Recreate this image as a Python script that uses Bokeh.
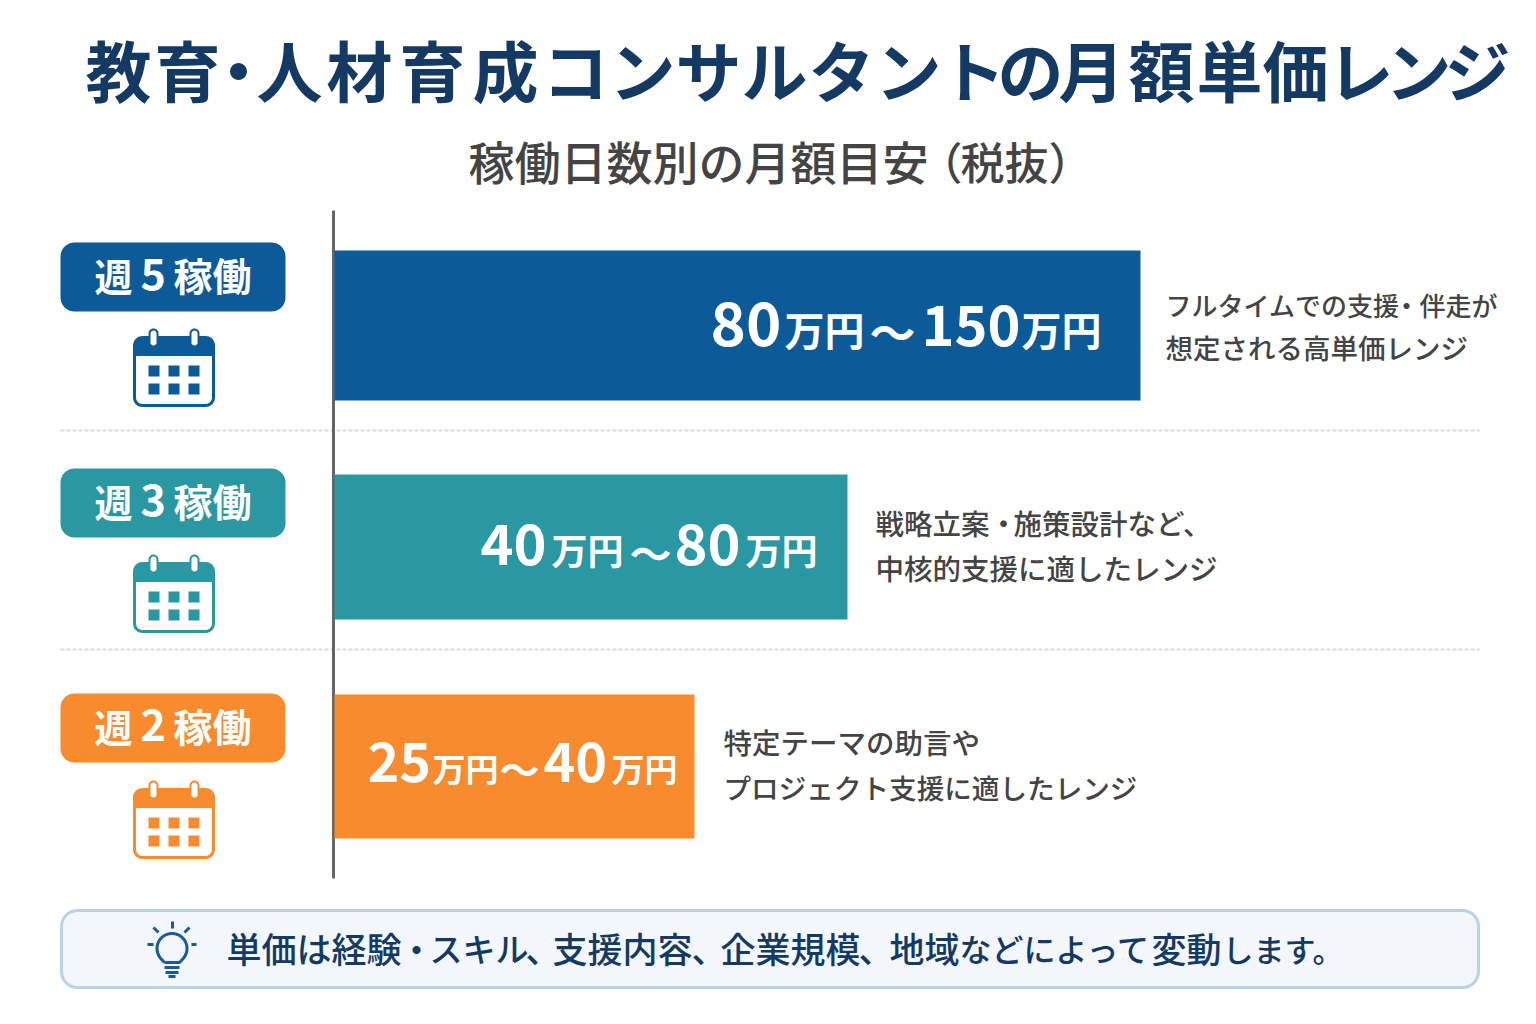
from bokeh.plotting import figure
from bokeh.models import ColumnDataSource, Range1d
from bokeh.core.properties import value
from bokeh.embed import file_html
from bokeh.resources import INLINE
import numpy as np

# Chart data
row_labels = ["5", "3", "2"]
low_values = ["80", "40", "25"]
high_values = ["150", "80", "40"]
bar_lengths = [806, 513, 360]  # drawn length (not proportional to the price)
bar_colors = ["#0d5a98", "#2a98a3", "#f78b2e"]
unit = "万円"
range_sep = "～"
title_text = "教育・人材育成コンサルタントの月額単価レンジ"
note_texts = [
    [("フルタイムでの支援", 1165, 315, 26), ("・", 1406, 315, 26), ("伴走が", 1419, 315, 26), ("想定される高単価レンジ", 1165, 359, 27.5)],
    [("戦略立案", 875, 535, 28.5), ("・", 1003, 535, 28.5), ("施策設計など、", 1013, 535, 28.5), ("中核的支援に適したレンジ", 875, 580, 28.5)],
    [("特定テーマの助言や", 723, 754, 28.5), ("プロジェクト支援に適したレンジ", 723, 799, 27.6)],
]

# Layout in picture pixels
title_centers = [118, 187, 238, 289, 359, 432, 505, 575, 642, 708, 774, 841, 908, 972,
                 1030, 1091, 1161, 1229, 1295, 1360, 1418, 1477]
bar_left = 334
bar_tops = [250, 474, 694]
bar_bottoms = [400, 619, 838]
badge_tops = [243, 469, 694]
calendar_tops = [337, 563, 789]
dividers = [430, 649]
value_x = [
    [710, 784, 869, 921, 1021],
    [480, 551, 629, 674, 745],
    [367, 432, 499, 543, 611],
]
value_baselines = [350, 569, 785]
unit_baselines = [346, 564, 782]
low_sizes = [60, 56, 54]
high_sizes = [56, 56, 54]
unit_sizes = [40, 36, 33]
sep_sizes = [46, 42, 40]

FONT = "Noto Sans CJK JP"
FONT_MED = "Noto Sans CJK JP Medium"
NAVY = "#143a63"
GREY = "#444444"

p = figure(width=1520, height=1008, x_range=Range1d(0, 1520), y_range=Range1d(1008, 0),
           output_backend="svg", toolbar_location=None,
           x_axis_location=None, y_axis_location=None, min_border=0)
p.xgrid.visible = False
p.ygrid.visible = False
p.outline_line_color = None


def add_text(x, y, text, size, color, font=FONT, style="normal", align="left"):
    # y is the baseline in the picture, drawn through the middle of the em box
    p.text(x=[x], y=[y - 0.44 * size], text=[text], text_font=value(font), text_font_style=style,
           text_font_size=f"{size}px", text_color=color, text_align=align,
           text_baseline="middle")


def rounded(x0, y0, x1, y1, r):
    # corners of a rounded box as a polygon
    t = np.linspace(0, np.pi / 2, 10)
    xs = np.concatenate([x1 - r + r * np.sin(t), x1 - r + r * np.cos(t),
                         x0 + r - r * np.sin(t), x0 + r - r * np.cos(t)])
    ys = np.concatenate([y0 + r - r * np.cos(t), y1 - r + r * np.sin(t),
                         y1 - r + r * np.cos(t), y0 + r - r * np.sin(t)])
    return xs.tolist(), ys.tolist()


def calendar(top, color):
    left = 134
    right = 213
    bottom = top + 68
    xs, ys = rounded(left, top, right, bottom, 8)
    p.patch(xs, ys, fill_color="white", line_color=color, line_width=3)
    # header band
    xs, ys = rounded(left, top, right, top + 14, 7)
    p.patch(xs, ys, fill_color=color, line_color=color, line_width=1)
    p.quad(left=[left], right=[right], top=[top + 8], bottom=[top + 18], fill_color=color, line_color=color)
    # rings
    for cx in [153, 194]:
        xs, ys = rounded(cx - 4, top - 8, cx + 4, top + 9, 4)
        p.patch(xs, ys, fill_color="white", line_color=color, line_width=2)
    # day squares
    cell_l = [148, 168, 188]
    cell_t = [top + 28, top + 46]
    for ct in cell_t:
        for cl in cell_l:
            p.quad(left=[cl], right=[cl + 11], top=[ct], bottom=[ct + 11], fill_color=color, line_color=None)


# Title
for ch, cx in zip(title_text, title_centers):
    add_text(cx, 97, ch, 66, NAVY, style="bold", align="center")

# Subtitle
add_text(468, 180, "稼働日数別の月額目安", 46, GREY, font=FONT_MED)
add_text(918, 180, "（", 44, GREY, font=FONT_MED)
add_text(960, 180, "税抜", 44, GREY, font=FONT_MED)
add_text(1048, 180, "）", 44, GREY, font=FONT_MED)

# Dividers and axis line
for y in dividers:
    p.line([60, 1479], [y, y], line_color="#dcdcdc", line_width=2, line_dash="4 2")
p.line([333, 333], [210, 878], line_color="#666666", line_width=3)

# Bars
source = ColumnDataSource(dict(
    left=[bar_left] * len(bar_lengths),
    right=[bar_left + b for b in bar_lengths],
    top=bar_tops,
    bottom=bar_bottoms,
    color=bar_colors,
))
p.quad(left="left", right="right", top="top", bottom="bottom", fill_color="color", line_color=None, source=source)

# Rows
for i, label in enumerate(row_labels):
    color = bar_colors[i]
    # badge
    t = badge_tops[i]
    xs, ys = rounded(60, t - 1, 285, t + 68, 14)
    p.patch(xs, ys, fill_color=color, line_color=None)
    add_text(94, t + 48, "週", 38, "white", style="bold")
    add_text(140, t + 49, label, 43, "white", style="bold")
    add_text(173, t + 48, "稼働", 39, "white", style="bold")

    calendar(calendar_tops[i], color)

    # value label
    bx = value_x[i]
    by = value_baselines[i]
    uy = unit_baselines[i]
    add_text(bx[0], by, low_values[i], low_sizes[i], "white", style="bold")
    add_text(bx[1], uy, unit, unit_sizes[i], "white", style="bold")
    add_text(bx[2], by, range_sep, sep_sizes[i], "white", style="bold")
    add_text(bx[3], by, high_values[i], high_sizes[i], "white", style="bold")
    add_text(bx[4], uy, unit, unit_sizes[i], "white", style="bold")

    # note beside the bar
    for text, x, y, size in note_texts[i]:
        add_text(x, y, text, size, GREY, font=FONT_MED, align="center" if text == "・" else "left")

# Footer box
xs, ys = rounded(61, 910, 1478, 987, 16)
p.patch(xs, ys, fill_color="#f3f7fb", line_color="#b9d2e6", line_width=3)

# Bulb icon
BULB = "#1a5a96"
theta = np.linspace(np.radians(-220), np.radians(40), 40)
bulb_x = (171.5 + 15 * np.cos(theta)).tolist()
bulb_y = (948 + 15 * np.sin(theta)).tolist()
p.line([164] + bulb_x + [179] + [164], [962] + bulb_y + [962] + [962], line_color=BULB, line_width=3)
p.line([164, 179], [967, 967], line_color=BULB, line_width=3)
p.line([165, 178], [972, 972], line_color=BULB, line_width=3)
p.line([168, 175], [976, 976], line_color=BULB, line_width=3)
for x0, y0, x1, y1 in [(172, 921, 172, 928), (153, 927, 158, 932), (189, 927, 184, 932),
                       (147, 944, 153, 944), (191, 944, 196, 944)]:
    p.line([x0, x1], [y0, y1], line_color=BULB, line_width=3)

# Footer text
footer_parts = [
    ("単価は経験", 226, 35), ("・", 416, 35), ("スキル", 429, 33), ("、", 525, 35),
    ("支援内容", 552, 35), ("、", 691, 35), ("企業規模", 720, 35), ("、", 858, 35),
    ("地域", 889, 35), ("などによって", 959, 32), ("変動", 1151, 35), ("します。", 1222, 31),
]
for text, x, size in footer_parts:
    add_text(x, 962, text, size, NAVY, font=FONT_MED, align="center" if text == "・" else "left")

open("out.html", "w").write(file_html(p, INLINE))
